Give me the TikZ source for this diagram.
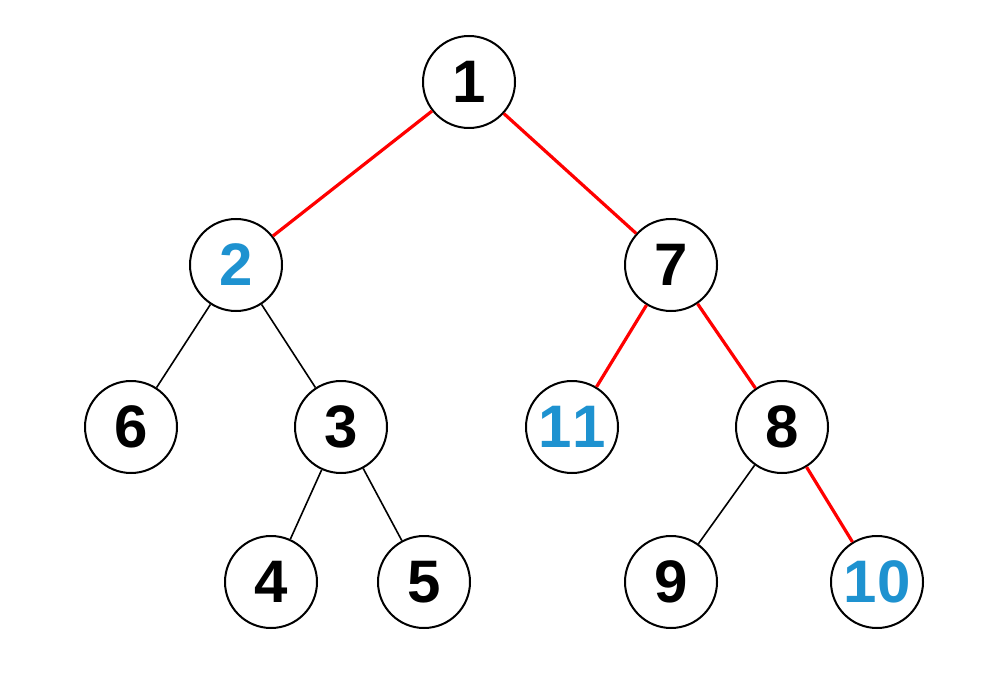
\documentclass[tikz,border=0pt]{standalone}
\usepackage{fontspec}
\setmainfont[Kerning=Off]{Liberation Sans}
\usepackage{tikz}
\usetikzlibrary{positioning,calc}
\definecolor{numblue}{RGB}{30,146,208}
\tikzset{
  vert/.style={shape=circle,draw=black,line width=1pt,fill=white,minimum size=46pt,inner sep=0pt,font=\fontsize{30}{31}\selectfont\bfseries},
  blk/.style={-,draw=black,line width=0.8pt},
  hot/.style={-,draw=red,line width=1.6pt}
}
\begin{document}
\begin{tikzpicture}[x=0.5pt,y=-0.5pt]
\useasboundingbox (0,0) rectangle (1004,678);
  \node[vert] (n1) at (469,82) {1};
  \node[vert,text=numblue] (n2) at (236,265) {2};
  \node[vert] (n7) at (671,265) {7};
  \node[vert] (n6) at (131,427) {6};
  \node[vert] (n3) at (341,427) {3};
  \node[vert,text=numblue] (n11) at (572,427) {11};
  \node[vert] (n8) at (782,427) {8};
  \node[vert] (n4) at (271,582) {4};
  \node[vert] (n5) at (424,582) {5};
  \node[vert] (n9) at (671,582) {9};
  \node[vert,text=numblue] (n10) at (877,582) {10};

  \path [hot](n1) edge node {} (n2);
  \path [hot](n1) edge node {} (n7);
  \path [blk](n2) edge node {} (n6);
  \path [blk](n2) edge node {} (n3);
  \path [hot](n7) edge node {} (n11);
  \path [hot](n7) edge node {} (n8);
  \path [blk](n3) edge node {} (n4);
  \path [blk](n3) edge node {} (n5);
  \path [blk](n8) edge node {} (n9);
  \path [hot](n8) edge node {} (n10);
\end{tikzpicture}
\end{document}
